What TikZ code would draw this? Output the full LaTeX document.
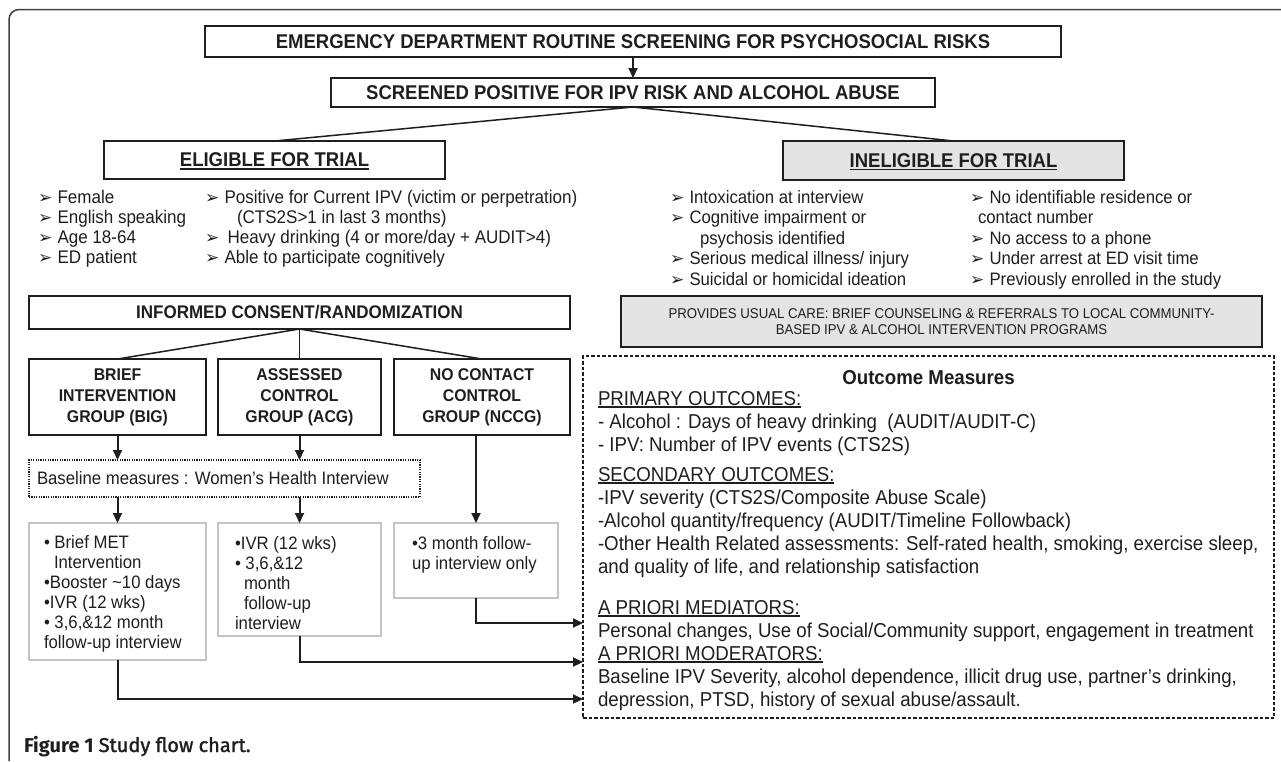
\documentclass[tikz,border=0pt]{standalone}
\usepackage{fontspec}
\setmainfont{Liberation Sans}[FakeStretch=0.93]
\newfontfamily\dingfont{DejaVu Sans}
\newfontfamily\capfont{Fira Sans}
\newfontfamily\capmed{Fira Sans}[FakeBold=1.5]
\usetikzlibrary{arrows.meta}
\definecolor{ink}{HTML}{1E1E1E}
\definecolor{grayfill}{HTML}{E4E4E4}
\definecolor{lightframe}{HTML}{C4C4C4}
\newcommand\fsz[2]{\fontsize{#1pt}{#2pt}\selectfont}
\newcommand\arrb{\makebox[19.5pt][l]{\dingfont\fontsize{17pt}{17pt}\selectfont ➢}}
\newcommand\ulc[3]{\leavevmode\setbox0=\hbox{#3}\rlap{\raisebox{-#1}[0pt][0pt]{\rule{\wd0}{#2}}}\box0}
\newcommand\txl[6]{%
  \foreach \t [count=\i from 0] in {#6} {
    \node[lbl, font=#5] (#1\i) at (#2, {#3+\i*#4}) {\t};
  }}
\begin{document}
\begin{tikzpicture}[x=1pt,y=-1pt,
  box/.style={draw=ink, line width=1.4pt, inner sep=0pt, outer sep=0pt, anchor=north west, text=ink},
  hdr/.style={box, font=\bfseries\fsz{19.9}{22}},
  grp/.style={box, align=center, font=\bfseries\fsz{17}{21}},
  grayb/.style={box, fill=grayfill},
  lowb/.style={draw=lightframe, line width=2pt, inner sep=0pt, outer sep=0pt, anchor=north west},
  dotb/.style={draw=ink, dash pattern=on 1.2pt off 1.2pt, line width=1.2pt, inner sep=0pt, outer sep=0pt, anchor=north west},
  outb/.style={draw=ink, dash pattern=on 3.5pt off 2pt, line width=1.3pt, inner sep=0pt, outer sep=0pt, anchor=north west},
  conn/.style={draw=ink, line width=2pt, -{Triangle[length=10pt,width=9pt]}},
  link/.style={draw=ink, line width=1.5pt},
  lbl/.style={anchor=base west, inner sep=0pt, outer sep=0pt, text=ink},
  frame/.style={draw=ink!85, line width=1.5pt, rounded corners=10pt}]
\useasboundingbox (0,0) rectangle (1281,761);
\draw[frame] (9,761) -- (9,9.5) -- (1281,9.5);

% top
\node[hdr, minimum width=856pt, minimum height=31pt] (emerg) at (205,26) {EMERGENCY DEPARTMENT ROUTINE SCREENING FOR PSYCHOSOCIAL RISKS};
\node[hdr, minimum width=604pt, minimum height=29pt] (screen) at (331,78) {SCREENED POSITIVE FOR IPV RISK AND ALCOHOL ABUSE};
\node[hdr, minimum width=341pt, minimum height=38pt] (elig) at (104,141) {\ulc{3pt}{1.8pt}{ELIGIBLE FOR TRIAL}};
\node[hdr, fill=grayfill, minimum width=341pt, minimum height=39pt] (inelig) at (783,141) {\ulc{3pt}{1.8pt}{INELIGIBLE FOR TRIAL}};
\draw[conn] (emerg.south) -- (screen.north);
\draw[link] (screen.south) -- (elig.north);
\draw[link] (screen.south) -- (inelig.north);

% eligibility lists
\txl{ea}{38}{203}{20}{\fsz{18.3}{20}}{{\arrb Female},{\arrb English speaking},{\arrb Age 18-64},{\arrb ED patient}}
\txl{eb}{205}{203}{20}{\fsz{18.3}{20}}{{\arrb Positive for Current IPV (victim or perpetration)},{\hspace{32pt}(CTS2S>1 in last 3 months)},{\arrb\hspace{3pt}Heavy drinking (4 or more/day + AUDIT>4)},{\arrb Able to participate cognitively}}
\txl{ia}{670}{203}{20.5}{\fsz{18}{20}}{{\arrb Intoxication at interview},{\arrb Cognitive impairment or},{\hspace{30pt}psychosis identified},{\arrb Serious medical illness/ injury},{\arrb Suicidal or homicidal ideation}}
\txl{ib}{970}{203}{20.5}{\fsz{18}{20}}{{\arrb No identifiable residence or},{\hspace{8pt}contact number},{\arrb No access to a phone},{\arrb Under arrest at ED visit time},{\arrb Previously enrolled in the study}}

% usual care
\node[grayb, align=center, font=\fsz{14.2}{16.5}, minimum width=641pt, minimum height=51pt] (usual) at (621,296) {PROVIDES USUAL CARE: BRIEF COUNSELING \& REFERRALS TO LOCAL COMMUNITY-\\BASED IPV \& ALCOHOL INTERVENTION PROGRAMS};

% consent and groups
\node[hdr, font=\bfseries\fsz{18.3}{21}, minimum width=541pt, minimum height=33pt] (consent) at (29,296) {INFORMED CONSENT/RANDOMIZATION};
\node[grp, minimum width=177pt, minimum height=76pt] (big) at (29,359) {BRIEF\\INTERVENTION\\GROUP (BIG)};
\node[grp, minimum width=163pt, minimum height=76pt] (acg) at (218,359) {ASSESSED\\CONTROL\\GROUP (ACG)};
\node[grp, minimum width=176pt, minimum height=76pt] (nccg) at (394,359) {NO CONTACT\\CONTROL\\GROUP (NCCG)};
\draw[link] (consent.south) -- (big.north);
\draw[link] (consent.south) -- (acg.north);
\draw[link] (consent.south) -- (nccg.north);

% baseline
\node[dotb, minimum width=391pt, minimum height=37pt] (base) at (29,460) {};
\node[lbl, font=\fsz{18}{20}] (basetxt) at (37,484) {Baseline measures : Women’s Health Interview};
\draw[conn] (big.south) -- (big.south |- base.north);
\draw[conn] (acg.south) -- (acg.south |- base.north);

% lower boxes
\node[lowb, minimum width=177pt, minimum height=137pt] (low1) at (29,523) {};
\node[lowb, minimum width=163pt, minimum height=113pt] (low2) at (218,523) {};
\node[lowb, minimum width=164pt, minimum height=75pt] (low3) at (394,523) {};
\draw[conn] (base.south -| low1.north) -- (low1.north);
\draw[conn] (base.south -| low2.north) -- (low2.north);
\draw[conn] (low3.north |- nccg.south) -- (low3.north);
\txl{la}{44}{548}{20}{\fsz{18}{20}}{{• Brief MET},{\hspace{10pt}Intervention},{•Booster \textasciitilde10 days},{•IVR (12 wks)},{• 3,6,\&12 month},{follow-up interview}}
\txl{lb}{235}{549}{20}{\fsz{18}{20}}{{•IVR (12 wks)},{• 3,6,\&12},{\hspace{9pt}month},{\hspace{9pt}follow-up},{interview}}
\txl{lc}{412}{549}{20}{\fsz{18}{20}}{{•3 month follow-},{up interview only}}

% outcome box
\node[outb, minimum width=691pt, minimum height=362pt] (outc) at (583,356) {};
\node[anchor=base, inner sep=0pt, text=ink, font=\bfseries\fsz{20.1}{23}] (otitle) at (outc.north |- 0,384) {Outcome Measures};
\txl{oa}{598}{405}{23}{\fsz{20.1}{23}}{{\ulc{2.5pt}{1.2pt}{PRIMARY OUTCOMES:}},{- Alcohol : Days of heavy drinking \ (AUDIT/AUDIT-C)},{- IPV: Number of IPV events (CTS2S)}}
\txl{ob}{598}{481}{23}{\fsz{20.1}{23}}{{\ulc{2.5pt}{1.2pt}{SECONDARY OUTCOMES:}},{-IPV severity (CTS2S/Composite Abuse Scale)},{-Alcohol quantity/frequency (AUDIT/Timeline Followback)},{-Other Health Related assessments: Self-rated health, smoking, exercise sleep,},{and quality of life, and relationship satisfaction}}
\txl{oc}{598}{614}{23}{\fsz{20.1}{23}}{{\ulc{2.5pt}{1.2pt}{A PRIORI MEDIATORS:}},{Personal changes, Use of Social/Community support, engagement in treatment},{\ulc{2.5pt}{1.2pt}{A PRIORI MODERATORS:}},{Baseline IPV Severity, alcohol dependence, illicit drug use, partner’s drinking,},{depression, PTSD, history of sexual abuse/assault.}}

\coordinate (in1) at (outc.west |- 0,623);
\coordinate (in2) at (outc.west |- 0,662);
\coordinate (in3) at (outc.west |- 0,699);
\draw[conn] (low3.south) |- (in1);
\draw[conn] (low2.south) |- (in2);
\draw[conn] (low1.south) |- (in3);

% caption
\node[lbl, font=\fsz{20}{24}] (cap) at (24,752) {{\capfont\bfseries Figure 1} {\capmed Study flow chart.}};
\end{tikzpicture}
\end{document}
